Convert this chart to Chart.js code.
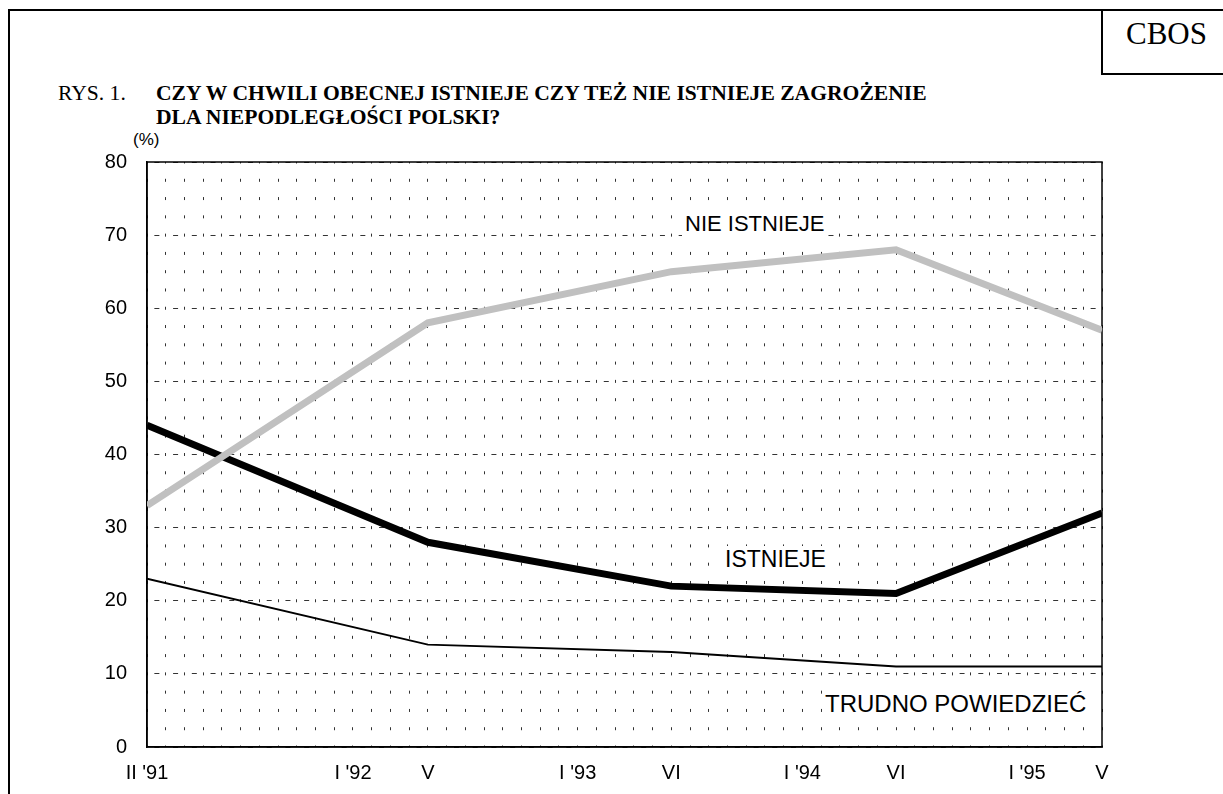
<!DOCTYPE html>
<html>
<head>
<meta charset="utf-8">
<script src="https://cdn.jsdelivr.net/npm/chart.js@4.4.0/dist/chart.umd.min.js"></script>
<style>
  body { margin: 0; background: #fff; width: 1223px; height: 794px; overflow: hidden; position: relative; font-family: "Liberation Sans", Arial, sans-serif; }
  #frame { position: absolute; left: 8px; top: 9px; width: 1240px; height: 820px; border-left: 2px solid #000; border-top: 2px solid #000; }
  #cbos { position: absolute; left: 1101px; top: 9px; width: 140px; height: 64px; border-left: 2px solid #000; border-bottom: 2px solid #000; }
  #cbos span { position: absolute; left: 23px; top: 9px; font-family: "Liberation Serif", serif; font-size: 31px; line-height: 1; }
  .title { position: absolute; font-family: "Liberation Serif", serif; font-size: 21.6px; line-height: 1; }
  .note { position: absolute; font-size: 22px; line-height: 1; }
  .lab { background: #fff; padding: 2px 3px; margin: -2px -3px; z-index: 2; }
  canvas { position: absolute; left: 0; top: 0; z-index: 1; }
</style>
</head>
<body>
<div id="frame"></div>
<div id="cbos"><span>CBOS</span></div>
<div class="title" style="left:58px;top:83px;">RYS. 1.</div>
<div class="title" style="left:156px;top:83px;font-weight:bold;">CZY W CHWILI OBECNEJ ISTNIEJE CZY TEŻ NIE ISTNIEJE ZAGROŻENIE</div>
<div class="title" style="left:156px;top:107px;font-weight:bold;">DLA NIEPODLEGŁOŚCI POLSKI?</div>
<div class="note" style="left:133px;top:131px;font-size:17px;">(%)</div>
<div class="note lab" style="left:685px;top:213px;">NIE ISTNIEJE</div>
<div class="note lab" style="left:725px;top:548px;font-size:23px;">ISTNIEJE</div>
<div class="note lab" style="left:825px;top:692px;font-size:24px;">TRUDNO POWIEDZIEĆ</div>
<canvas id="wykres" width="1223" height="794"></canvas>
<script>
// miesiace liczone od II '91
var surveyMonths = [0, 15, 28, 40, 51];
var istnieje = [44, 28, 22, 21, 32];
var nieIstnieje = [33, 58, 65, 68, 57];
var trudnoPowiedziec = [23, 14, 13, 11, 11];

var tickMonths = [0, 11, 15, 23, 28, 35, 40, 47, 51];
var tickLabels = ["II '91", "I '92", "V", "I '93", "VI", "I '94", "VI", "I '95", "V"];

var lastMonth = 51;
var yMax = 80;

function punkty(values) {
    return values.map(function (v, i) { return { x: surveyMonths[i], y: v }; });
}

var ramka = {
    id: 'ramka',
    beforeDatasetsDraw: function (chart) {
        var a = chart.chartArea, c = chart.ctx;
        c.save();
        c.strokeStyle = '#000';
        c.lineWidth = 1.5;
        c.strokeRect(a.left, a.top, a.right - a.left, a.bottom - a.top);
        c.restore();
    }
};

var ctxWykres = document.getElementById('wykres');

var wykres = new Chart(ctxWykres, {
    type: 'line',
    data: {
        datasets: [
            {
                label: 'NIE ISTNIEJE',
                data: punkty(nieIstnieje),
                borderColor: '#c0c0c0',
                borderWidth: 7,
                pointRadius: 0,
                tension: 0
            },
            {
                label: 'ISTNIEJE',
                data: punkty(istnieje),
                borderColor: '#000000',
                borderWidth: 7,
                pointRadius: 0,
                tension: 0
            },
            {
                label: 'TRUDNO POWIEDZIEĆ',
                data: punkty(trudnoPowiedziec),
                borderColor: '#000000',
                borderWidth: 2,
                pointRadius: 0,
                tension: 0
            }
        ]
    },
    options: {
        responsive: false,
        animation: false,
        layout: { padding: { left: 87, top: 162, right: 121, bottom: 7 } },
        plugins: {
            legend: { display: false },
            tooltip: { enabled: false }
        },
        scales: {
            x: {
                type: 'linear',
                min: 0,
                max: lastMonth,
                afterFit: function (s) { s.height = 40; },
                ticks: {
                    stepSize: 1,
                    autoSkip: false,
                    maxRotation: 0,
                    padding: 14,
                    color: '#000',
                    font: { family: 'Liberation Sans', size: 20 },
                    callback: function (v) {
                        var i = tickMonths.indexOf(v);
                        return i >= 0 ? tickLabels[i] : '';
                    }
                },
                grid: { color: '#333', lineWidth: 1, drawTicks: false },
                border: {
                    color: '#000',
                    width: 1.5,
                    dash: function (c) {
                        var a = c.chart.chartArea;
                        var p = (a.bottom - a.top) / (yMax / 2.5);
                        return [3, p - 3];
                    },
                    dashOffset: 1.5
                }
            },
            y: {
                min: 0,
                max: yMax,
                afterFit: function (s) { s.width = 60; },
                ticks: {
                    stepSize: 10,
                    padding: 20,
                    color: '#000',
                    font: { family: 'Liberation Sans', size: 20 }
                },
                grid: { color: '#333', lineWidth: 1, drawTicks: false },
                border: {
                    color: '#000',
                    width: 1.5,
                    dash: function (c) {
                        var a = c.chart.chartArea;
                        var q = (a.right - a.left) / lastMonth;
                        return [5, q - 5];
                    },
                    dashOffset: function (c) {
                        var a = c.chart.chartArea;
                        var q = (a.right - a.left) / lastMonth;
                        return q / 2 + 2.5;
                    }
                }
            }
        }
    },
    plugins: [ramka]
});
</script>
</body>
</html>
